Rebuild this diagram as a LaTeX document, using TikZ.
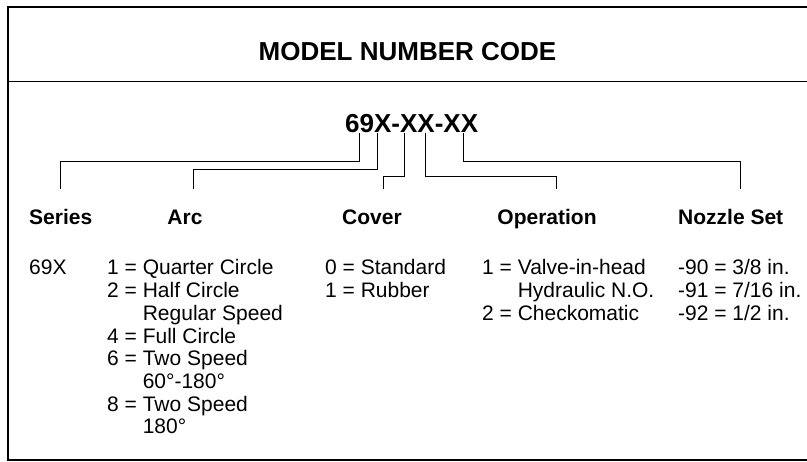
\documentclass[tikz,border=0pt]{standalone}
\usepackage{fontspec}
\setmainfont{Liberation Sans}
\usepackage{tikz}
\usetikzlibrary{positioning}

\begin{document}
\begin{tikzpicture}[x=1pt,y=-1pt,
  head/.style={inner sep=0pt,font=\fontsize{21}{23}\selectfont\bfseries},
  item/.style={inner sep=0pt,anchor=base west,
     font=\fontsize{21}{22.7}\selectfont},
  lead/.style={draw=black,line width=0.9pt}]
\useasboundingbox (0,0) rectangle (807,462);
% frame, open to the right
\draw[line width=2.5pt] (807,7) -- (8,7) -- (8,460) -- (807,460);
\draw[line width=1pt] (8,82) -- (807,82);
\node[inner sep=0pt,anchor=base,font=\fontsize{26}{28}\selectfont\bfseries]
  (title) at (407.5,61) {MODEL NUMBER CODE};
\node[inner sep=0pt,anchor=base west,font=\fontsize{26}{28}\selectfont\bfseries]
  (code) at (345,133) {69X-XX-XX};
% column heads
\node[head,anchor=base west] (series) at (29,225) {Series};
\node[head,anchor=base] (arc) at (185,225) {Arc};
\node[head,anchor=base] (cover) at (372,225) {Cover};
\node[head,anchor=base] (oper) at (547,225) {Operation};
\node[head,anchor=base west] (nozzle) at (678,225) {Nozzle Set};
% lists
\node[item] (seriesList) at (29,275) {69X};
\node[item] (arcList) at (107,275) {\begin{tabular}[t]{@{}l@{\ }l@{\ }l@{}}
  1 & = & Quarter Circle\\ 2 & = & Half Circle\\ & & Regular Speed\\
  4 & = & Full Circle\\ 6 & = & Two Speed\\ & & 60°-180°\\
  8 & = & Two Speed\\ & & 180°\end{tabular}};
\node[item] (coverList) at (325,275) {\begin{tabular}[t]{@{}l@{\ }l@{\ }l@{}}
  0 & = & Standard\\ 1 & = & Rubber\end{tabular}};
\node[item] (operList) at (482,275) {\begin{tabular}[t]{@{}l@{\ }l@{\ }l@{}}
  1 & = & Valve-in-head\\ & & Hydraulic N.O.\\ 2 & = & Checkomatic\end{tabular}};
\node[item] (nozzleList) at (678,275) {\begin{tabular}[t]{@{}l@{\ }l@{\ }l@{}}
  -90 & = & 3/8 in.\\ -91 & = & 7/16 in.\\ -92 & = & 1/2 in.\end{tabular}};
% leader ends
\coordinate (c1) at ([xshift=14pt]code.south west);
\coordinate (c2) at ([xshift=32pt]code.south west);
\coordinate (c3) at ([xshift=59pt]code.south west);
\coordinate (c4) at ([xshift=80pt]code.south west);
\coordinate (c5) at ([xshift=118pt]code.south west);
\coordinate (e1) at (60,189);
\coordinate (e2) at (193,189);
\coordinate (e3) at (383,189);
\coordinate (e4) at (556,189);
\coordinate (e5) at (740,189);
\draw[lead] (c1) -- ++(0,28) -| (e1);
\draw[lead] (c2) -- ++(0,36) -| (e2);
\draw[lead] (c3) -- ++(0,43) -| (e3);
\draw[lead] (c4) -- ++(0,43) -| (e4);
\draw[lead] (c5) -- ++(0,28) -| (e5);
\end{tikzpicture}
\end{document}
